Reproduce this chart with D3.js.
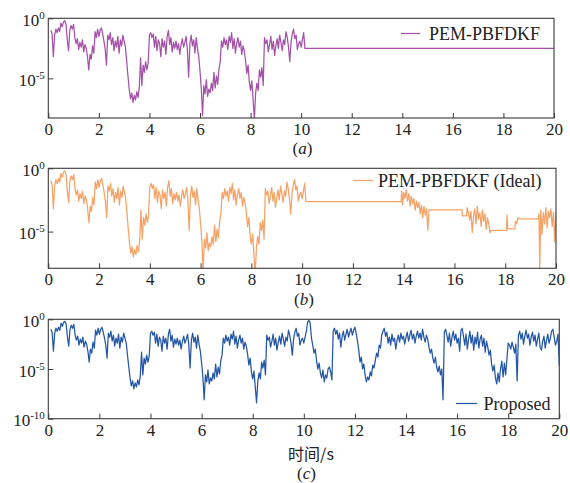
<!DOCTYPE html>
<html>
<head>
<meta charset="utf-8">
<script src="https://cdn.jsdelivr.net/npm/d3@7/dist/d3.min.js"></script>
<style>
  html, body { margin: 0; padding: 0; background: #ffffff; }
  svg { display: block; }
  text { font-family: "Liberation Serif", "Times New Roman", "Noto Sans CJK SC", serif; fill: #222; }
</style>
</head>
<body>
<svg id="chart" width="570" height="483"></svg>
<script>
// ---------------- DATA ----------------
// x axis ticks (time, s)
const xTicks = [0, 2, 4, 6, 8, 10, 12, 14, 16, 18, 20];
// sampling of the error curves
const timeStart = 0.1;
const timeStep = 0.05;

// Proposed method: log10 of error, sampled from t = 0.10 s to 20.00 s every 0.05 s
const logErrProposed = [
  // 0.10 - 0.95
  -1.0, -1.3, -3.2, -1.4, -0.9, -1.2, -0.8, -1.1, -0.4, -0.7, -0.3, -0.2, -0.5, -1.8, -2.7, -1.0, -0.6, -0.9,
  // 1.00 - 1.95
  -0.5, -1.6, -2.1, -1.7, -2.6, -2.0, -2.4, -1.8, -2.8, -2.2, -2.5, -3.2, -4.3, -3.0, -3.4, -2.3, -2.9, -1.1, -1.6, -0.9,
  // 2.00 - 2.95
  -1.5, -1.0, -0.8, -1.3, -1.9, -2.6, -3.9, -1.4, -1.8, -1.2, -2.2, -1.6, -2.7, -1.9, -2.4, -1.5, -2.9, -1.8, -2.3, -1.4,
  // 3.00 - 3.95
  -1.9, -2.4, -3.6, -4.8, -5.9, -6.7, -6.2, -7.0, -6.4, -6.8, -6.1, -6.6, -5.7, -3.3, -5.6, -3.9, -4.5, -3.6, -4.3, -3.7,
  // 4.00 - 4.95
  -1.4, -1.2, -1.6, -1.3, -2.4, -1.5, -2.7, -1.8, -2.1, -3.2, -1.7, -2.4, -1.9, -3.0, -1.5, -1.0, -2.2, -1.6, -2.8, -2.0,
  // 5.00 - 5.95
  -2.5, -1.9, -2.6, -2.1, -3.0, -2.2, -1.7, -2.4, -2.0, -1.5, -2.6, -4.9, -2.1, -1.4, -2.3, -1.8, -2.9, -1.6, -2.5, -3.2,
  // 6.00 - 6.95
  -4.4, -5.8, -8.1, -5.6, -6.3, -5.1, -6.5, -5.9, -6.2, -5.4, -6.0, -4.5, -5.8, -4.8, -5.5, -4.2, -3.6, -1.9, -2.4, -1.6,
  // 7.00 - 7.95
  -2.2, -1.8, -2.6, -1.5, -2.0, -1.2, -2.5, -1.7, -2.9, -2.1, -1.6, -2.4, -1.9, -3.0, -2.3, -2.7, -3.5, -4.6, -3.9, -5.3,
  // 8.00 - 8.95
  -6.0, -5.2, -6.8, -8.4, -6.2, -5.4, -6.0, -4.3, -4.9, -4.1, -5.6, -1.6, -2.1, -1.8, -2.8, -2.2, -1.5, -2.6, -1.9, -3.1,
  // 9.00 - 9.95
  -2.3, -1.7, -2.5, -1.4, -2.0, -2.7, -1.8, -2.2, -1.1, -1.6, -2.4, -3.6, -2.0, -1.3, -0.9, -1.7, -1.4, -2.6, -2.1, -1.9,
  // 10.00 - 10.95
  -2.4, -1.8, -1.2, -0.3, -0.1, -0.4, -1.9, -2.6, -3.4, -3.0, -4.2, -5.0, -4.4, -5.4, -5.9, -5.1, -6.3, -5.6, -5.9, -5.0,
  // 11.00 - 11.95
  -4.8, -5.3, -6.1, -1.2, -0.9, -1.5, -1.1, -2.0, -1.4, -2.8, -1.7, -1.2, -2.1, -1.5, -1.0, -1.8, -1.3, -0.9, -1.6, -1.1,
  // 12.00 - 12.95
  -0.8, -1.4, -2.2, -3.1, -4.3, -3.8, -5.0, -4.5, -5.6, -6.3, -5.8, -6.1, -5.3, -5.7, -4.6, -4.9, -4.1, -3.4, -3.8, -2.6,
  // 13.00 - 13.95
  -2.9, -1.6, -1.2, -0.9, -1.7, -1.3, -2.4, -1.8, -2.6, -1.5, -2.2, -1.9, -3.0, -2.1, -1.6, -2.3, -1.4, -2.0, -1.7, -2.5,
  // 14.00 - 14.95
  -1.8, -1.3, -2.2, -1.6, -1.1, -2.0, -1.5, -2.4, -1.7, -1.2, -1.9, -1.4, -2.1, -1.0, -1.8, -2.3, -1.6, -2.0, -2.8, -3.4,
  // 15.00 - 15.95
  -3.0, -3.9, -4.4, -3.8, -4.8, -5.3, -4.7, -5.6, -5.0, -8.1, -1.3, -1.0, -1.6, -2.3, -1.4, -2.7, -1.8, -1.2, -2.1, -1.5,
  // 16.00 - 16.95
  -2.4, -1.9, -3.2, -1.1, -0.9, -1.7, -2.6, -1.5, -3.0, -2.0, -1.2, -2.4, -1.6, -3.1, -1.8, -2.5, -1.3, -2.9, -2.0, -1.6,
  // 17.00 - 17.95
  -2.7, -1.9, -3.3, -2.2, -2.8, -3.6, -3.1, -4.5, -5.2, -4.6, -5.9, -6.5, -5.4, -6.3, -5.0, -4.2, -5.8, -4.4, -5.6, -4.0,
  // 18.00 - 18.95
  -2.4, -2.6, -3.0, -2.3, -2.8, -3.4, -2.5, -6.2, -1.6, -1.2, -2.0, -1.4, -2.5, -1.7, -1.1, -1.9, -1.5, -2.6, -1.8, -1.3,
  // 19.00 - 20.00
  -2.2, -1.6, -2.7, -2.0, -1.4, -2.8, -3.1, -2.2, -1.7, -2.9, -2.1, -1.5, -2.4, -1.9, -1.2, -1.0, -1.8, -2.6, -2.2, -1.5, -4.7
];

// PEM-PBFDKF curves share the first 10.1 s with the proposed one
const sharedEndTime = 10.1;

// (a) PEM-PBFDKF tail after 10.1 s
const pbfdkfTailTimes = [10.15, 20.0];
const pbfdkfTailLog   = [-2.5, -2.5];

// (b) PEM-PBFDKF (Ideal) tail after 10.1 s
const idealTailTimes = [
  10.15, 13.90,
  13.92, 13.95, 14.00, 14.05, 14.10, 14.15, 14.20, 14.25, 14.30, 14.35, 14.40, 14.45, 14.50, 14.55, 14.60, 14.65, 14.70, 14.75, 14.80, 14.85, 14.90, 14.95, 15.00,
  15.02, 16.30,
  16.31, 16.48,
  16.50, 16.55, 16.60, 16.65, 16.70, 16.75, 16.80, 16.85, 16.90, 16.95, 17.00, 17.05, 17.10, 17.15, 17.20, 17.25, 17.30, 17.35, 17.40, 17.45,
  17.47, 18.05,
  18.07, 18.10, 18.38,
  18.40, 18.45, 18.50,
  18.55, 19.30,
  19.33, 19.36, 19.40, 19.45, 19.50, 19.55, 19.60, 19.65, 19.70, 19.75, 19.80, 19.85, 19.90, 19.95, 20.00
];
const idealTailLog = [
  -2.63, -2.63,
  -1.8, -2.9, -1.9, -2.4, -1.7, -2.6, -2.0, -3.0, -2.2, -2.8, -2.4, -3.3, -2.6, -3.1, -2.7, -3.6, -2.9, -3.9, -3.0, -3.7, -3.2, -4.9, -3.3,
  -3.28, -3.28,
  -3.76, -3.76,
  -3.1, -3.5, -4.1, -3.4, -5.1, -3.8, -3.2, -4.4, -3.0, -4.0, -3.5, -4.6, -3.3, -4.2, -3.6, -4.8, -3.9, -4.4, -5.1, -4.9,
  -4.91, -4.91,
  -3.7, -4.78, -4.78,
  -4.2, -4.4, -3.9,
  -4.0, -4.0,
  -3.6, -7.9, -3.3, -5.2, -3.5, -4.4, -3.1, -4.7, -3.4, -3.9, -3.2, -4.6, -3.5, -5.8, -3.4
];

const seriesNames = ["PEM-PBFDKF", "PEM-PBFDKF (Ideal)", "Proposed"];
const captions = ["(a)", "(b)", "(c)"];
const xAxisTitle = "时间/s";

// ---------------- BUILD ----------------
const proposedPts = logErrProposed.map((v, i) => ({ t: timeStart + i * timeStep, v: Math.pow(10, v) }));
const sharedPts = proposedPts.filter(d => d.t <= sharedEndTime + 1e-9);
const pbfdkfPts = sharedPts.concat(pbfdkfTailTimes.map((t, i) => ({ t, v: Math.pow(10, pbfdkfTailLog[i]) })));
const idealPts = sharedPts.concat(idealTailTimes.map((t, i) => ({ t, v: Math.pow(10, idealTailLog[i]) })));

const panels = [
  { data: pbfdkfPts, name: seriesNames[0], color: "#a452a8", left: 48.3, right: 554, top: 18.3, bottom: 118,
    yMinExp: -8.3, yTicks: [0, -5], legend: { x1: 401, x2: 420, y: 33.5, tx: 429, ty: 39.5 },
    caption: captions[0], capX: 302.5, capY: 154 },
  { data: idealPts, name: seriesNames[1], color: "#f5a266", left: 48.3, right: 556, top: 168.3, bottom: 268.3,
    yMinExp: -7.9, yTicks: [0, -5], legend: { x1: 353, x2: 373.5, y: 180.5, tx: 378, ty: 186.5 },
    caption: captions[1], capX: 304, capY: 305 },
  { data: proposedPts, name: seriesNames[2], color: "#2456a6", left: 48.3, right: 559.3, top: 319.3, bottom: 418.7,
    yMinExp: -10, yTicks: [0, -5, -10], legend: { x1: 456, x2: 477, y: 403.5, tx: 483.5, ty: 409.5 },
    caption: captions[2], capX: 306.5, capY: 479 }
];

const svg = d3.select("#chart");
const axisColor = "#3a3a3a";

panels.forEach((p, pi) => {
  const x = d3.scaleLinear().domain([0, 20]).range([p.left, p.right]);
  const y = d3.scaleLog().domain([Math.pow(10, p.yMinExp), 1]).range([p.bottom, p.top]);

  const clipId = "clip" + pi;
  svg.append("clipPath").attr("id", clipId)
    .append("rect").attr("x", p.left).attr("y", p.top)
    .attr("width", p.right - p.left).attr("height", p.bottom - p.top);

  // line
  const line = d3.line().x(d => x(d.t)).y(d => y(Math.max(d.v, 1e-12)));
  svg.append("path").datum(p.data)
    .attr("clip-path", `url(#${clipId})`)
    .attr("fill", "none").attr("stroke", p.color)
    .attr("stroke-width", 1.25).attr("stroke-linejoin", "round")
    .attr("d", line);

  // x axis (ticks inside)
  const gx = svg.append("g").attr("transform", `translate(0,${p.bottom})`)
    .attr("font-family", null).attr("font-size", null)
    .call(d3.axisBottom(x).tickValues(xTicks).tickSize(-5).tickPadding(0).tickFormat(d3.format("d")));
  gx.attr("font-family", null).attr("font-size", null);
  gx.select(".domain").remove();
  gx.selectAll(".tick line").attr("stroke", axisColor);
  gx.selectAll(".tick text").attr("y", 17).attr("dy", null)
    .style("font-family", '"Liberation Serif", serif').style("font-size", "17px").attr("fill", "#222");

  // y axis (ticks inside, custom superscript labels)
  const gy = svg.append("g").attr("transform", `translate(${p.left},0)`)
    .call(d3.axisLeft(y).tickValues(p.yTicks.map(e => Math.pow(10, e))).tickSize(-5).tickFormat(""));
  gy.attr("font-family", null).attr("font-size", null);
  gy.select(".domain").remove();
  gy.selectAll(".tick line").attr("stroke", axisColor);
  gy.selectAll(".tick").each(function(d) {
    const e = Math.round(Math.log10(d));
    const t = d3.select(this).append("text")
      .attr("x", -3.5).attr("y", 7).attr("text-anchor", "end")
      .style("font-family", '"Liberation Serif", serif').style("font-size", "17px").attr("fill", "#222");
    t.append("tspan").text("10");
    t.append("tspan").attr("dy", -7).style("font-size", "11px").text(String(e));
  });

  // frame
  svg.append("rect").attr("x", p.left).attr("y", p.top)
    .attr("width", p.right - p.left).attr("height", p.bottom - p.top)
    .attr("fill", "none").attr("stroke", axisColor).attr("stroke-width", 1.1);

  // legend
  svg.append("line").attr("x1", p.legend.x1).attr("x2", p.legend.x2)
    .attr("y1", p.legend.y).attr("y2", p.legend.y)
    .attr("stroke", p.color).attr("stroke-width", 1.25);
  svg.append("text").attr("x", p.legend.tx).attr("y", p.legend.ty)
    .style("font-size", "18px").text(p.name);

  // caption
  const cap = svg.append("text").attr("x", p.capX).attr("y", p.capY)
    .attr("text-anchor", "middle").style("font-size", "17px");
  cap.append("tspan").text("(");
  cap.append("tspan").style("font-style", "italic").text(p.caption.slice(1, -1));
  cap.append("tspan").text(")");
});

// x axis title
svg.append("text").attr("x", 311).attr("y", 460)
  .attr("text-anchor", "middle")
  .style("font-family", '"Noto Sans CJK SC", "Liberation Serif", serif')
  .style("font-size", "16px").text(xAxisTitle);
</script>
</body>
</html>
